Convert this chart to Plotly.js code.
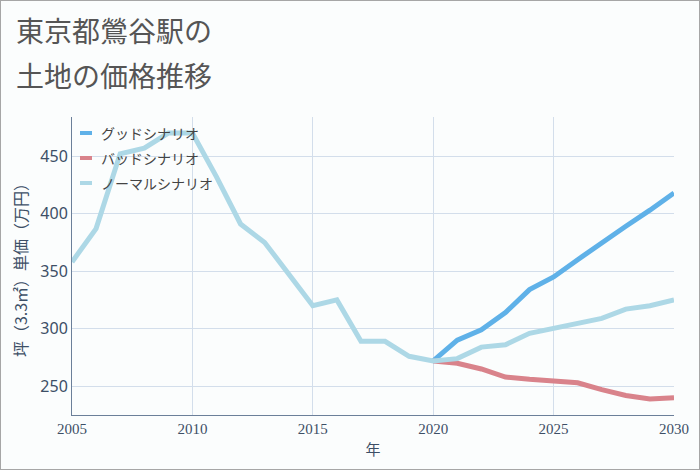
<!DOCTYPE html>
<html><head><meta charset="utf-8">
<script src="https://cdn.plot.ly/plotly-3.0.1.min.js"></script>
<style>
html,body{margin:0;padding:0;background:#fff;}
#chart{width:698px;height:468px;border:1px solid #a6a6a6;}
</style></head>
<body><div id="chart"></div>
<script>
const years = [2005,2006,2007,2008,2009,2010,2011,2012,2013,2014,2015,2016,2017,2018,2019,2020,2021,2022,2023,2024,2025,2026,2027,2028,2029,2030];
const futureYears = [2020,2021,2022,2023,2024,2025,2026,2027,2028,2029,2030];
const normalValues = [358,387,452,457,470,470,432,391,375,348,320,325,289,289,276,272,274,284,286,296,300,305,309,317,320,325];
const goodValues = [272,290,299,314,334,345,360,375,389,403,418];
const badValues = [272,270,265,258,256,254,253,247,242,239,240];
const seriesNames = ['グッドシナリオ','バッドシナリオ','ノーマルシナリオ'];
const titleLines = ['東京都鶯谷駅の','土地の価格推移'];
const colors = ['#5fb1e8','#d9838b','#add8e6'];

const cjk = '"Noto Sans CJK JP", sans-serif';
const data = [
  {x:futureYears, y:goodValues, name:seriesNames[0], mode:'lines', line:{color:colors[0], width:5}},
  {x:futureYears, y:badValues, name:seriesNames[1], mode:'lines', line:{color:colors[1], width:5}},
  {x:years, y:normalValues, name:seriesNames[2], mode:'lines', line:{color:colors[2], width:5}}
];
// plot area px: left 72, right 674, top 117, bottom 415
const plotTop = 117, plotH = 298, plotL = 72, plotW = 602;
const py = p => (plotTop + plotH - p) / plotH;
const px = p => (p - plotL) / plotW;

const annotations = [];
const shapes = [];
titleLines.forEach((t, i) => {
  annotations.push({text:t, xref:'paper', yref:'paper', x:px(14), y:py(30 + i*45), xanchor:'left', yanchor:'middle',
    showarrow:false, font:{family:cjk, size:28, color:'#555555'}});
});
seriesNames.forEach((n, i) => {
  const yy = py(133 + i*25);
  shapes.push({type:'line', xref:'paper', yref:'paper', x0:px(80), x1:px(92), y0:yy, y1:yy,
    line:{color:colors[i], width:4}});
  annotations.push({text:n, xref:'paper', yref:'paper', x:px(99), y:yy, xanchor:'left', yanchor:'middle',
    showarrow:false, font:{family:cjk, size:14, color:'#444'}});
});

const layout = {
  width:698, height:468,
  paper_bgcolor:'#fbfdfd', plot_bgcolor:'#fbfdfd',
  margin:{l:71, r:25, t:116, b:54},
  showlegend:false,
  annotations:annotations, shapes:shapes,
  xaxis:{range:[2005,2030], dtick:5, tick0:2005, showgrid:true, gridcolor:'#d3deeb', zeroline:false,
         showline:true, linecolor:'#6b7f99', linewidth:1, ticks:'',
         tickfont:{family:'"Liberation Serif", "DejaVu Serif", serif', size:15, color:'#3d4f66'},
         title:{text:'年', font:{family:cjk, size:15, color:'#3d4f66'}, standoff:8}},
  yaxis:{range:[225,484], dtick:50, tick0:250, showgrid:true, gridcolor:'#d3deeb', zeroline:false,
         showline:true, linecolor:'#6b7f99', linewidth:1, ticks:'',
         tickfont:{family:'"Noto Sans", "DejaVu Sans", sans-serif', size:16, color:'#3d4f66'},
         title:{text:'坪（3.3㎡）単価（万円）', font:{family:cjk, size:16, color:'#3d4f66'}, standoff:8}}
};
Plotly.newPlot('chart', data, layout, {displayModeBar:false, staticPlot:true});
</script></body></html>
